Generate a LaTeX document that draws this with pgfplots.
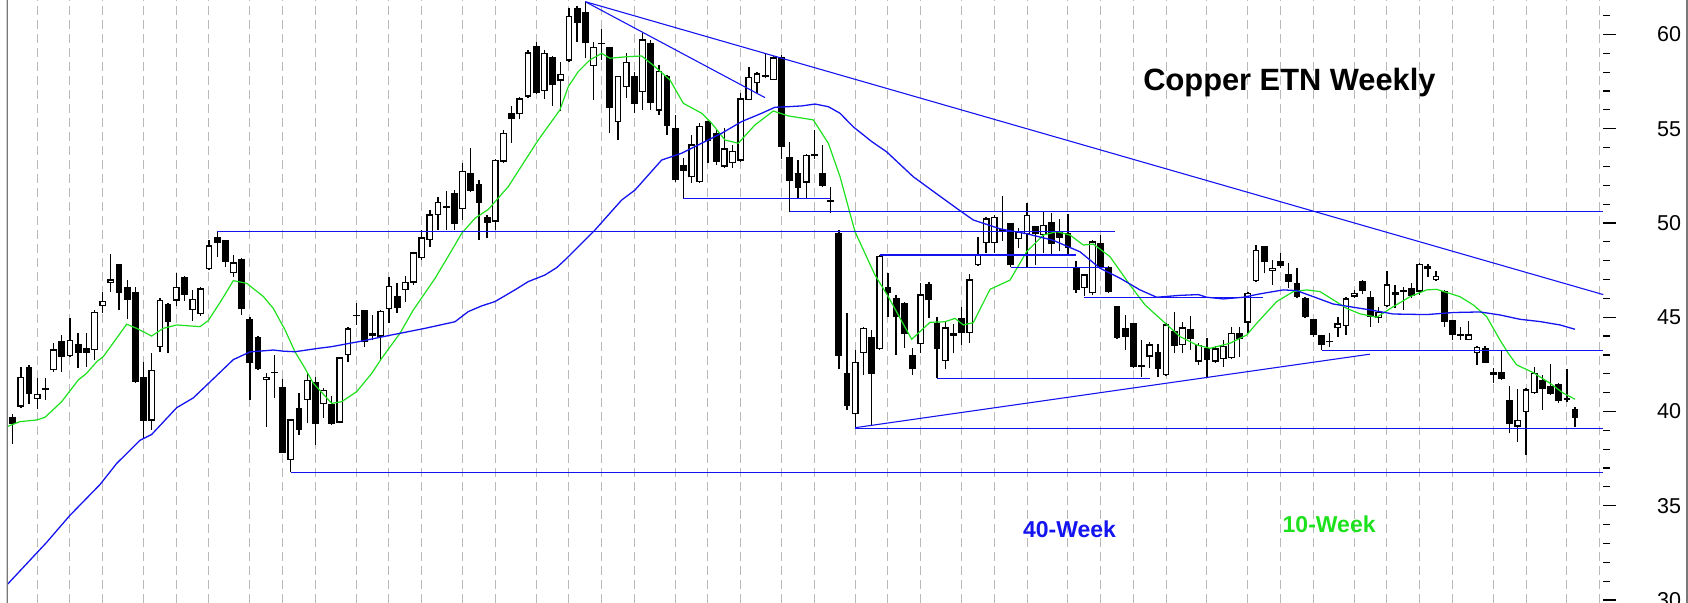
\documentclass[border=0pt]{standalone}
\usepackage{pgfplots}
\pgfplotsset{compat=1.18}
\usepackage{pgfplotstable}
\usepackage{fontspec}
\setmainfont{Liberation Sans}

\definecolor{lineblue}{RGB}{20,20,240}
\definecolor{magreen}{RGB}{30,225,30}
\definecolor{gridgray}{RGB}{185,185,185}
\definecolor{framegray}{RGB}{120,120,120}

% weekly candles: week index, open, high, low, close
\pgfplotstableread{
n O H L C
1 39.69 39.85 38.26 39.32
2 40.26 42.38 40.17 41.85
3 42.38 42.47 40.40 40.93
4 40.65 41.76 40.12 40.93
5 41.27 41.76 40.61 41.16
6 42.20 43.62 42.11 43.30
7 43.74 44.06 42.11 42.91
8 42.95 44.94 42.91 43.79
9 43.56 44.15 42.29 43.12
10 43.35 44.15 42.38 43.12
11 43.26 45.39 42.73 45.28
12 45.60 46.36 45.21 45.88
13 46.84 48.36 46.36 47.01
14 47.81 47.81 45.39 46.27
15 46.62 46.98 44.89 45.92
16 46.32 46.59 41.53 41.58
17 41.85 42.65 38.58 39.50
18 39.52 43.09 39.02 42.20
19 43.41 46.00 43.18 45.92
20 45.70 45.75 43.12 44.77
21 45.88 47.33 45.60 46.62
22 47.15 47.20 45.86 46.18
23 45.39 46.45 44.82 45.97
24 45.16 46.59 45.07 46.54
25 47.54 49.10 47.51 48.82
26 49.24 49.55 48.22 48.92
27 49.10 49.10 47.68 47.95
28 47.33 48.30 47.15 47.91
29 48.07 48.13 45.12 45.42
30 44.91 45.00 40.61 42.59
31 43.94 44.00 42.20 42.24
32 41.67 42.03 39.20 41.85
33 42.10 43.00 40.70 42.03
34 41.28 41.73 37.80 37.82
35 37.43 39.60 36.77 39.58
36 40.17 40.96 38.75 39.02
37 40.61 42.11 39.37 41.67
38 41.55 41.85 38.22 39.34
39 40.40 41.23 39.64 41.14
40 40.40 40.82 39.30 39.34
41 39.41 42.90 39.37 42.87
42 43.00 44.50 42.64 44.41
43 45.05 45.74 44.59 45.12
44 45.38 45.40 43.44 43.70
45 44.00 45.12 43.79 44.15
46 43.97 45.40 42.70 45.35
47 45.42 47.15 44.71 46.66
48 46.13 46.80 45.24 45.47
49 46.45 47.19 45.83 46.89
50 46.83 48.48 46.71 48.44
51 48.12 49.63 48.04 49.24
52 49.10 50.69 48.74 50.46
53 50.42 51.40 49.63 51.13
54 50.92 51.71 49.63 50.81
55 51.57 51.75 49.63 49.93
56 50.72 53.20 50.16 52.78
57 52.67 53.99 51.66 51.70
58 52.05 52.28 49.10 51.04
59 50.30 50.42 49.19 50.02
60 50.07 53.38 49.63 53.34
61 53.25 54.93 53.17 54.79
62 55.85 56.21 54.26 55.50
63 55.76 56.70 55.50 56.61
64 56.70 59.18 56.61 59.05
65 59.39 59.62 56.85 56.88
66 57.00 59.18 56.56 59.04
67 58.82 58.85 56.21 57.32
68 57.55 58.56 55.96 57.90
69 58.61 61.39 58.56 61.00
70 61.39 61.51 59.62 60.63
71 61.21 61.74 58.74 59.53
72 58.33 59.62 56.52 59.35
73 59.55 60.27 58.65 59.48
74 59.35 59.35 54.76 56.12
75 55.34 57.80 54.40 57.80
76 57.20 59.04 56.61 58.56
77 57.80 58.03 55.82 56.31
78 56.93 60.06 56.00 59.74
79 59.53 59.71 56.00 56.38
80 55.96 58.38 55.73 58.06
81 57.80 57.85 54.67 55.15
82 55.02 55.73 52.19 52.28
83 53.08 53.43 51.31 52.76
84 52.42 54.67 52.14 54.17
85 52.16 55.29 52.14 55.15
86 55.41 55.41 53.17 54.35
87 54.79 54.93 53.08 53.25
88 52.99 55.02 52.90 53.96
89 53.17 54.14 52.90 53.84
90 53.31 56.88 53.25 56.61
91 56.52 58.29 56.52 57.76
92 57.41 58.03 56.88 57.94
93 57.76 59.00 57.67 57.85
94 57.59 58.86 57.59 58.79
95 58.82 58.91 53.38 54.01
96 53.52 54.31 50.60 52.23
97 52.67 53.34 51.31 51.87
98 52.14 53.66 51.31 53.61
99 53.55 54.93 53.40 53.65
100 52.63 54.14 51.90 51.96
101 51.22 51.93 50.51 51.11
102 49.45 49.63 42.24 42.94
103 42.04 45.20 40.10 40.30
104 39.84 43.26 39.14 42.63
105 43.10 44.50 41.93 44.45
106 43.95 44.30 39.29 42.00
107 43.31 48.30 43.26 48.27
108 46.62 47.33 45.03 46.27
109 46.04 46.18 43.00 45.03
110 45.74 45.82 43.35 44.09
111 43.00 43.35 41.93 42.24
112 43.56 46.80 43.08 46.21
113 46.75 46.89 44.94 45.91
114 44.68 45.03 41.76 43.30
115 42.68 44.76 42.24 44.46
116 44.00 44.64 43.08 44.15
117 44.98 45.52 43.53 44.15
118 44.15 47.29 43.65 47.01
119 47.77 49.27 47.72 48.30
120 48.92 50.34 48.39 50.25
121 48.92 50.42 48.42 50.33
122 49.70 51.43 49.06 49.60
123 49.98 50.00 47.68 47.77
124 49.13 49.72 48.65 49.54
125 49.40 51.04 47.68 50.42
126 49.84 49.84 47.77 49.40
127 49.36 50.65 48.39 49.89
128 50.07 50.55 48.30 48.88
129 49.60 50.20 48.50 49.20
130 49.49 50.50 48.37 48.67
131 47.69 47.96 46.30 46.42
132 46.53 47.28 46.13 47.28
133 46.26 49.10 46.20 49.02
134 48.96 49.38 47.55 47.68
135 47.68 47.70 46.30 46.36
136 45.60 45.60 43.85 43.88
137 44.41 45.12 43.26 43.97
138 44.68 44.70 42.29 42.38
139 42.36 43.79 41.85 42.46
140 42.91 43.70 42.29 43.56
141 43.18 43.58 41.85 42.26
142 41.94 44.68 41.88 44.63
143 44.27 45.30 43.09 43.48
144 43.53 44.77 43.09 44.47
145 44.36 45.07 43.26 43.83
146 42.64 43.62 42.47 43.53
147 43.35 43.88 41.76 42.73
148 42.64 43.48 42.56 43.35
149 42.77 43.79 42.38 43.48
150 42.82 44.50 42.77 44.18
151 44.15 44.50 42.91 43.83
152 44.71 46.36 44.15 46.30
153 46.92 48.83 46.88 48.57
154 48.80 48.80 47.33 47.95
155 47.47 48.04 46.71 47.63
156 47.99 48.39 47.60 47.74
157 47.28 47.86 46.54 46.89
158 46.80 47.60 46.00 46.06
159 46.00 46.06 44.95 45.00
160 44.89 44.89 43.97 44.06
161 44.06 44.06 43.26 43.53
162 43.76 44.15 43.44 43.66
163 44.41 45.03 43.97 44.68
164 44.54 46.06 44.06 46.00
165 46.09 46.45 46.00 46.30
166 46.92 47.00 46.24 46.41
167 46.09 46.41 44.50 45.03
168 44.94 45.56 44.71 45.30
169 45.60 47.47 45.56 46.75
170 46.32 46.71 45.47 46.18
171 46.32 46.62 45.39 46.45
172 46.54 46.80 46.00 46.15
173 46.36 47.86 46.18 47.83
174 47.72 47.83 47.15 47.54
175 46.98 47.47 46.94 47.21
176 46.41 46.45 44.47 44.73
177 44.86 44.86 43.79 44.06
178 44.13 44.47 43.79 44.01
179 43.79 44.82 43.79 44.10
180 43.09 43.48 42.47 43.44
181 43.35 43.48 42.56 42.59
182 42.07 42.33 41.50 41.95
183 42.08 43.26 41.67 41.71
184 40.61 41.37 38.84 39.32
185 39.20 41.20 38.40 39.55
186 39.96 41.23 37.69 41.18
187 40.97 42.35 40.93 42.06
188 41.67 41.94 40.08 41.18
189 41.37 42.52 40.88 40.93
190 41.44 41.53 40.44 40.56
191 40.72 42.24 40.52 40.60
192 40.12 40.26 39.20 39.64
}\candles

% 10-week average
\pgfplotstableread{
n v
0.34 39.20
1.89 39.46
3.93 39.55
4.95 39.69
6.99 40.52
9.02 41.67
10.05 42.03
11.27 42.64
12.08 42.91
14.94 44.63
16.16 44.41
17.99 44.00
19.41 44.41
21.05 44.59
23.90 44.50
24.91 44.82
26.55 45.92
27.97 46.94
29.61 46.80
31.64 46.10
32.86 45.47
34.29 44.33
35.51 43.17
36.73 42.29
37.75 41.50
40.00 40.43
41.22 40.52
43.05 41.05
44.89 42.02
46.11 42.82
48.35 44.15
49.97 45.38
52.63 47.06
54.46 48.39
55.89 49.45
57.52 50.25
59.14 50.72
61.59 51.93
63.42 53.17
65.25 54.40
67.90 56.00
68.92 57.23
70.14 58.03
71.57 58.65
73.00 59.00
74.02 58.74
76.06 58.82
77.89 58.86
79.52 58.29
81.35 57.59
82.98 56.35
85.23 55.82
86.45 55.29
88.08 54.40
89.70 54.23
91.74 55.20
93.98 55.94
95.82 55.68
98.87 55.47
100.71 54.23
102.14 52.46
103.97 49.54
106.41 47.24
108.04 46.09
110.90 43.83
113.14 44.73
114.97 44.76
116.20 44.94
117.21 44.59
118.43 44.71
120.48 46.48
122.92 46.97
124.96 48.48
127.00 49.36
128.63 49.54
130.26 49.36
131.88 48.83
133.11 48.88
135.15 48.21
137.59 46.71
139.43 45.65
141.47 44.85
143.72 43.97
145.74 43.53
147.37 43.35
149.81 43.62
151.86 44.06
153.08 44.68
155.52 45.83
157.55 46.36
159.19 46.45
160.82 46.36
162.44 45.92
164.08 45.47
165.71 45.18
167.75 45.00
169.78 45.56
171.82 46.09
173.86 46.45
175.08 46.48
177.93 46.09
179.56 45.65
181.19 45.03
182.82 43.79
183.83 43.09
184.86 42.47
186.89 42.06
188.93 41.50
190.56 40.97
191.99 40.65
}\maten

% 40-week average
\pgfplotstableread{
n v
0.34 30.82
5.16 33.06
8.00 34.49
11.67 36.12
13.71 37.24
16.56 38.47
17.99 38.78
21.05 40.20
23.08 40.72
25.52 41.73
27.97 42.75
30.01 43.16
32.86 43.26
34.08 43.20
35.51 43.17
38.36 43.35
40.00 43.44
43.25 43.70
47.33 44.06
51.40 44.41
55.07 44.76
56.70 45.30
58.33 45.60
59.96 45.83
62.40 46.45
64.03 46.89
66.07 47.24
67.50 47.63
68.52 48.04
72.19 49.63
75.45 51.22
77.08 51.75
80.34 53.34
82.78 53.70
85.23 54.23
87.67 54.76
90.12 55.38
92.56 55.82
94.19 56.14
95.82 56.17
97.45 56.21
99.08 56.31
100.71 56.17
102.14 55.82
103.76 55.10
106.01 54.32
107.85 53.77
111.10 52.45
114.36 51.42
116.81 50.65
118.43 50.16
121.70 49.69
124.96 49.43
128.21 49.08
131.48 48.47
133.92 47.60
136.37 47.07
138.81 46.45
140.85 46.06
143.70 46.16
145.94 46.20
146.97 46.06
149.00 45.97
151.45 46.06
153.48 46.24
156.33 46.45
157.97 46.41
160.00 46.09
162.44 45.70
164.89 45.53
166.93 45.39
169.78 45.17
173.86 45.14
177.12 45.25
180.38 45.28
182.82 45.12
185.27 44.89
187.71 44.77
190.16 44.59
191.99 44.36
}\maforty

\begin{document}
\begin{tikzpicture}[x=1pt,y=1pt]
\useasboundingbox (0,0) rectangle (844,301.5);
\begin{axis}[
  at={(3.35pt,0pt)}, anchor=south west,
  scale only axis, width=798.3pt, height=301.5pt,
  xmin=0.27, xmax=195.45, ymin=29.84, ymax=61.83,
  axis line style={draw=none},
  xtick={4,8,12,17,21,25,30,34,38,43,47,51,56,60,65,69,73,77,82,86,90,95,99,104,108,112,117,121,125,130,134,138,142,147,152,156,160,165,169,173,177,182,186,191,195},
  xticklabels={},
  x tick style={draw=none},
  xmajorgrids,
  major x grid style={gridgray, line width=0.5pt, dash pattern=on 4.25pt off 2.75pt},
  ytick={30,35,...,60},
  minor ytick={30,31,...,61},
  ytick pos=right, yticklabel pos=right,
  tick align=outside,
  major tick length=6.4pt, minor tick length=3.3pt,
  y tick style={black, line width=0.6pt},
  yticklabel style={anchor=west, xshift=17pt, font=\fontsize{10.75}{12}\selectfont},
  /pgf/number format/assume math mode=true,
]
% wicks
\addplot[draw=none, mark=none, forget plot,
  error bars/.cd, y dir=plus, y explicit, error mark=none,
  error bar style={draw=black, line width=0.65pt}]
  table[x=n, y=L, y error plus expr=\thisrow{H}-\thisrow{L}] {\candles};
% falling weeks
\addplot[draw=none, mark=none, forget plot,
  restrict expr to domain={\thisrow{O}-\thisrow{C}}{0.001:100},
  error bars/.cd, y dir=plus, y explicit, error mark=none,
  error bar style={draw=black, line width=3.4pt}]
  table[x=n, y=C, y error plus expr=\thisrow{O}-\thisrow{C}] {\candles};
% rising weeks: outline then white inside
\addplot[draw=none, mark=none, forget plot,
  restrict expr to domain={\thisrow{C}-\thisrow{O}}{0:100},
  error bars/.cd, y dir=plus, y explicit, error mark=none,
  error bar style={draw=black, line width=3.4pt}]
  table[x=n, y=O, y error plus expr=\thisrow{C}-\thisrow{O}] {\candles};
\addplot[draw=none, mark=none, forget plot,
  restrict expr to domain={\thisrow{C}-\thisrow{O}}{0.16:100},
  error bars/.cd, y dir=plus, y explicit, error mark=none,
  error bar style={draw=white, line width=2.1pt}]
  table[x=n, y expr=\thisrow{O}+0.07, y error plus expr=\thisrow{C}-\thisrow{O}-0.14] {\candles};
% moving averages
\addplot[magreen, line width=0.6pt, mark=none] table[x=n, y=v] {\maten};
\addplot[lineblue, line width=0.65pt, mark=none] table[x=n, y=v] {\maforty};
% support, resistance and trend lines
\addplot[lineblue, line width=0.55pt] coordinates {(26,49.55) (135.8,49.55)};
\addplot[lineblue, line width=0.55pt] coordinates {(96,50.60) (195.45,50.60)};
\addplot[lineblue, line width=0.55pt] coordinates {(83,51.31) (100.9,51.31)};
\addplot[lineblue, line width=0.55pt] coordinates {(35,36.77) (195.45,36.77)};
\addplot[lineblue, line width=0.55pt] coordinates {(104,39.12) (195.45,39.12)};
\addplot[lineblue, line width=0.55pt] coordinates {(107,48.30) (131,48.30)};
\addplot[lineblue, line width=0.55pt] coordinates {(123,47.65) (134.9,47.65)};
\addplot[lineblue, line width=0.55pt] coordinates {(132,46.06) (153.8,46.06)};
\addplot[lineblue, line width=0.55pt] coordinates {(114,41.76) (140,41.76)};
\addplot[lineblue, line width=0.55pt] coordinates {(161,43.24) (195.45,43.24)};
\addplot[lineblue, line width=0.55pt] coordinates {(104,39.14) (166.9,43.04)};
\addplot[lineblue, line width=0.55pt] coordinates {(71,61.74) (195.45,46.20)};
\addplot[lineblue, line width=0.55pt] coordinates {(71,61.74) (92.97,56.65)};
\draw[framegray, line width=1pt] (rel axis cs:0,0) -- (rel axis cs:0,1);
\end{axis}
\draw[framegray, line width=0.8pt] (843.4,0) -- (843.4,301.5);
\node[anchor=base west, inner sep=0pt, font=\bfseries\fontsize{15.4}{17}\selectfont] at (571.5,256) {Copper ETN Weekly};
\node[anchor=base west, inner sep=0pt, text=lineblue, font=\bfseries\fontsize{11.5}{13}\selectfont] at (511.35,32.65) {40-Week};
\node[anchor=base west, inner sep=0pt, text=magreen, font=\bfseries\fontsize{11.5}{13}\selectfont] at (641.15,35.15) {10-Week};
\end{tikzpicture}
\end{document}
